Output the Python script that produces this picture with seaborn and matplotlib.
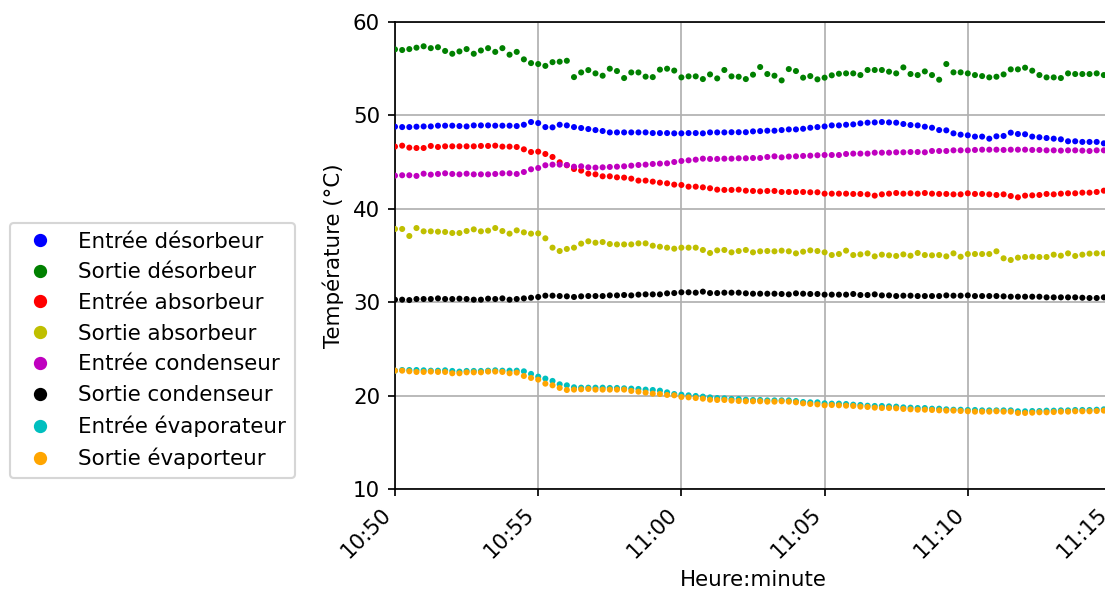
import numpy as np
import pandas as pd
import matplotlib
matplotlib.use("Agg")
import matplotlib.pyplot as plt
import matplotlib.dates as mdates
from matplotlib.lines import Line2D
import seaborn as sns

# Relevés toutes les 15 s, de 10:50 à 11:15
temps = pd.date_range("2019-05-14 10:50:00", periods=101, freq="15s")

entree_desorbeur = [
    48.79, 48.75, 48.75, 48.79, 48.82, 48.82, 48.9, 48.9, 48.9, 48.86,
    48.82, 48.93, 48.93, 48.93, 48.9, 48.9, 48.9, 48.86, 49.0, 49.29,
    49.18, 48.75, 48.72, 49.0, 48.93, 48.75, 48.65, 48.54, 48.43, 48.33,
    48.18, 48.18, 48.18, 48.18, 48.18, 48.18, 48.11, 48.11, 48.11, 48.08,
    48.08, 48.11, 48.11, 48.08, 48.18, 48.18, 48.18, 48.2, 48.2, 48.2,
    48.29, 48.32, 48.36, 48.36, 48.43, 48.5, 48.5, 48.57, 48.68, 48.75,
    48.82, 48.93, 48.93, 49.0, 49.04, 49.15, 49.22, 49.25, 49.29, 49.25,
    49.22, 49.08, 48.97, 48.93, 48.79, 48.68, 48.43, 48.4, 48.08, 47.94,
    47.87, 47.73, 47.73, 47.51, 47.76, 47.8, 48.15, 48.01, 47.98, 47.73,
    47.66, 47.58, 47.51, 47.44, 47.23, 47.23, 47.16, 47.16, 47.16, 47.01,
    47.0]

sortie_desorbeur = [
    57.07, 57.0, 57.1, 57.25, 57.4, 57.2, 57.3, 56.9, 56.6, 56.85,
    57.1, 56.6, 56.95, 57.2, 56.8, 57.2, 56.5, 56.8, 56.0, 55.6,
    55.5, 55.3, 55.7, 55.75, 55.85, 54.1, 54.6, 54.85, 54.5, 54.25,
    55.0, 54.75, 54.0, 54.6, 54.6, 54.15, 54.1, 54.9, 55.0, 54.8,
    54.07, 54.18, 54.18, 53.89, 54.39, 53.96, 54.86, 54.18, 54.14, 53.89,
    54.36, 55.18, 54.43, 54.25, 53.75, 54.96, 54.75, 54.04, 54.21, 53.86,
    54.04, 54.29, 54.46, 54.5, 54.5, 54.32, 54.86, 54.86, 54.86, 54.68,
    54.5, 55.14, 54.43, 54.32, 54.71, 54.32, 53.82, 55.5, 54.61, 54.61,
    54.5, 54.32, 54.21, 54.07, 54.14, 54.39, 54.93, 54.93, 55.11, 54.79,
    54.32, 54.07, 54.07, 54.0, 54.5, 54.43, 54.43, 54.43, 54.5, 54.32,
    54.4]

entree_absorbeur = [
    46.66, 46.76, 46.55, 46.51, 46.51, 46.73, 46.62, 46.69, 46.69, 46.69,
    46.69, 46.69, 46.73, 46.73, 46.76, 46.66, 46.66, 46.62, 46.37, 46.08,
    46.12, 45.87, 45.55, 44.98, 44.66, 44.26, 44.09, 43.76, 43.69, 43.48,
    43.48, 43.37, 43.34, 43.23, 43.02, 43.02, 42.91, 42.8, 42.73, 42.59,
    42.55, 42.37, 42.37, 42.3, 42.2, 42.05, 42.02, 42.02, 42.05, 41.94,
    41.91, 41.87, 41.91, 41.91, 41.8, 41.8, 41.8, 41.8, 41.77, 41.77,
    41.62, 41.62, 41.62, 41.62, 41.59, 41.59, 41.55, 41.41, 41.55, 41.62,
    41.69, 41.62, 41.66, 41.62, 41.69, 41.62, 41.59, 41.59, 41.55, 41.55,
    41.66, 41.59, 41.59, 41.55, 41.48, 41.55, 41.37, 41.23, 41.41, 41.44,
    41.48, 41.59, 41.55, 41.62, 41.66, 41.66, 41.73, 41.73, 41.8, 41.94,
    42.0]

sortie_absorbeur = [
    37.84, 37.84, 37.09, 37.94, 37.59, 37.59, 37.55, 37.52, 37.41, 37.41,
    37.62, 37.8, 37.59, 37.66, 37.94, 37.62, 37.34, 37.69, 37.48, 37.34,
    37.37, 36.84, 35.84, 35.48, 35.7, 35.84, 36.27, 36.52, 36.37, 36.44,
    36.23, 36.19, 36.19, 36.19, 36.3, 36.3, 36.05, 35.94, 35.84, 35.73,
    35.84, 35.84, 35.84, 35.59, 35.27, 35.55, 35.59, 35.34, 35.48, 35.59,
    35.34, 35.45, 35.48, 35.45, 35.52, 35.45, 35.23, 35.41, 35.55, 35.48,
    35.34, 35.05, 35.16, 35.52, 35.05, 35.12, 35.23, 34.91, 35.09, 35.02,
    34.95, 35.12, 34.98, 35.27, 35.05, 35.02, 35.05, 34.91, 35.23, 34.87,
    35.16, 35.16, 35.16, 35.16, 35.45, 34.7, 34.52, 34.77, 34.84, 34.87,
    34.84, 34.84, 35.09, 34.98, 35.23, 34.95, 35.09, 35.2, 35.23, 35.23,
    35.25]

entree_condenseur = [
    43.55, 43.59, 43.59, 43.52, 43.76, 43.66, 43.73, 43.8, 43.73, 43.69,
    43.76, 43.69, 43.69, 43.69, 43.73, 43.8, 43.8, 43.73, 43.94, 44.23,
    44.37, 44.66, 44.73, 44.73, 44.69, 44.51, 44.55, 44.44, 44.41, 44.44,
    44.48, 44.51, 44.55, 44.62, 44.69, 44.73, 44.8, 44.84, 44.87, 45.01,
    45.12, 45.19, 45.26, 45.37, 45.34, 45.34, 45.37, 45.37, 45.41, 45.41,
    45.44, 45.44, 45.55, 45.62, 45.51, 45.59, 45.62, 45.66, 45.69, 45.73,
    45.76, 45.76, 45.76, 45.87, 45.91, 45.91, 45.91, 46.01, 46.01, 46.01,
    46.05, 46.05, 46.08, 46.08, 46.05, 46.19, 46.19, 46.19, 46.26, 46.26,
    46.26, 46.3, 46.33, 46.33, 46.33, 46.3, 46.33, 46.33, 46.33, 46.3,
    46.3, 46.26, 46.26, 46.23, 46.26, 46.26, 46.23, 46.19, 46.26, 46.26,
    46.26]

sortie_condenseur = [
    30.27, 30.27, 30.23, 30.34, 30.34, 30.34, 30.41, 30.34, 30.34, 30.38,
    30.34, 30.27, 30.27, 30.38, 30.34, 30.41, 30.27, 30.34, 30.41, 30.48,
    30.56, 30.7, 30.7, 30.66, 30.63, 30.56, 30.63, 30.66, 30.66, 30.66,
    30.73, 30.73, 30.77, 30.73, 30.81, 30.84, 30.84, 30.84, 30.95, 30.98,
    31.06, 31.06, 31.02, 31.13, 30.98, 30.98, 31.02, 31.02, 31.02, 30.95,
    30.91, 30.91, 30.91, 30.91, 30.88, 30.84, 30.95, 30.91, 30.88, 30.88,
    30.81, 30.81, 30.81, 30.81, 30.88, 30.77, 30.77, 30.84, 30.73, 30.73,
    30.66, 30.7, 30.7, 30.66, 30.66, 30.66, 30.66, 30.73, 30.7, 30.7,
    30.73, 30.66, 30.66, 30.66, 30.66, 30.63, 30.59, 30.59, 30.59, 30.59,
    30.59, 30.52, 30.52, 30.52, 30.52, 30.52, 30.48, 30.45, 30.45, 30.52,
    30.5]

entree_evaporateur = [
    22.67, 22.74, 22.74, 22.74, 22.71, 22.67, 22.67, 22.71, 22.64, 22.57,
    22.64, 22.64, 22.64, 22.67, 22.71, 22.67, 22.67, 22.67, 22.6, 22.32,
    22.03, 21.82, 21.57, 21.21, 21.1, 20.89, 20.85, 20.85, 20.85, 20.85,
    20.82, 20.82, 20.78, 20.75, 20.71, 20.64, 20.6, 20.53, 20.35, 20.17,
    20.1, 20.03, 19.96, 19.89, 19.81, 19.74, 19.71, 19.64, 19.64, 19.56,
    19.53, 19.53, 19.49, 19.49, 19.49, 19.49, 19.42, 19.31, 19.28, 19.28,
    19.17, 19.14, 19.14, 19.1, 19.03, 19.0, 18.92, 18.89, 18.89, 18.85,
    18.82, 18.74, 18.71, 18.67, 18.67, 18.6, 18.6, 18.53, 18.49, 18.49,
    18.46, 18.46, 18.42, 18.42, 18.42, 18.42, 18.42, 18.32, 18.32, 18.35,
    18.35, 18.39, 18.39, 18.42, 18.42, 18.46, 18.46, 18.46, 18.49, 18.53,
    18.53]

sortie_evaporateur = [
    22.67, 22.67, 22.6, 22.53, 22.53, 22.57, 22.53, 22.53, 22.39, 22.39,
    22.49, 22.49, 22.49, 22.57, 22.57, 22.53, 22.39, 22.46, 22.1, 21.89,
    21.71, 21.28, 21.1, 20.82, 20.6, 20.64, 20.67, 20.71, 20.64, 20.64,
    20.64, 20.64, 20.64, 20.5, 20.42, 20.32, 20.21, 20.17, 20.07, 20.03,
    19.85, 19.81, 19.74, 19.67, 19.56, 19.53, 19.53, 19.46, 19.42, 19.39,
    19.39, 19.39, 19.35, 19.35, 19.39, 19.35, 19.28, 19.17, 19.1, 19.06,
    18.96, 18.99, 18.96, 18.92, 18.89, 18.82, 18.78, 18.71, 18.67, 18.67,
    18.64, 18.57, 18.53, 18.49, 18.49, 18.46, 18.42, 18.39, 18.39, 18.35,
    18.32, 18.28, 18.28, 18.28, 18.32, 18.28, 18.28, 18.14, 18.14, 18.17,
    18.21, 18.21, 18.24, 18.28, 18.28, 18.32, 18.32, 18.32, 18.35, 18.39,
    18.4]

series = {
    "Entrée désorbeur": entree_desorbeur,
    "Sortie désorbeur": sortie_desorbeur,
    "Entrée absorbeur": entree_absorbeur,
    "Sortie absorbeur": sortie_absorbeur,
    "Entrée condenseur": entree_condenseur,
    "Sortie condenseur": sortie_condenseur,
    "Entrée évaporateur": entree_evaporateur,
    "Sortie évaporteur": sortie_evaporateur,
}
couleurs = ["b", "g", "r", "y", "m", "k", "c", "orange"]
palette = dict(zip(series.keys(), couleurs))

frames = []
for nom, valeurs in series.items():
    frames.append(pd.DataFrame({"temps": temps, "T": valeurs, "serie": nom}))
df = pd.concat(frames, ignore_index=True)

DPI = 154
fig = plt.figure(figsize=(1105 / DPI, 590 / DPI), dpi=DPI)
ax = fig.add_axes([395 / 1105, 101 / 590, 716 / 1105, 467 / 590])

sns.scatterplot(data=df, x="temps", y="T", hue="serie", hue_order=list(series.keys()),
                palette=palette, s=8, linewidth=0, legend=False, ax=ax, zorder=3)

ax.grid(True, color="#b0b0b0", linewidth=0.8)
ax.set_axisbelow(True)
ax.set_ylim(10, 60)
ax.set_yticks(range(10, 61, 10))
ax.set_xlim(temps[0], temps[-1])
ax.xaxis.set_major_locator(mdates.MinuteLocator(byminute=range(0, 60, 5)))
ax.xaxis.set_major_formatter(mdates.DateFormatter("%H:%M"))
plt.setp(ax.get_xticklabels(), rotation=45, ha="right")
ax.set_xlabel("Heure:minute")
ax.set_ylabel("Température (°C)")

# légende hors du graphe, à gauche
handles = [Line2D([], [], ls="", marker="o", markersize=5.2, color=c) for c in couleurs]
fig.legend(handles, list(series.keys()), loc="lower left",
           bbox_to_anchor=(10 / 1105, 1 - 478 / 590), borderaxespad=0)

fig.savefig("out.png", dpi=DPI)
